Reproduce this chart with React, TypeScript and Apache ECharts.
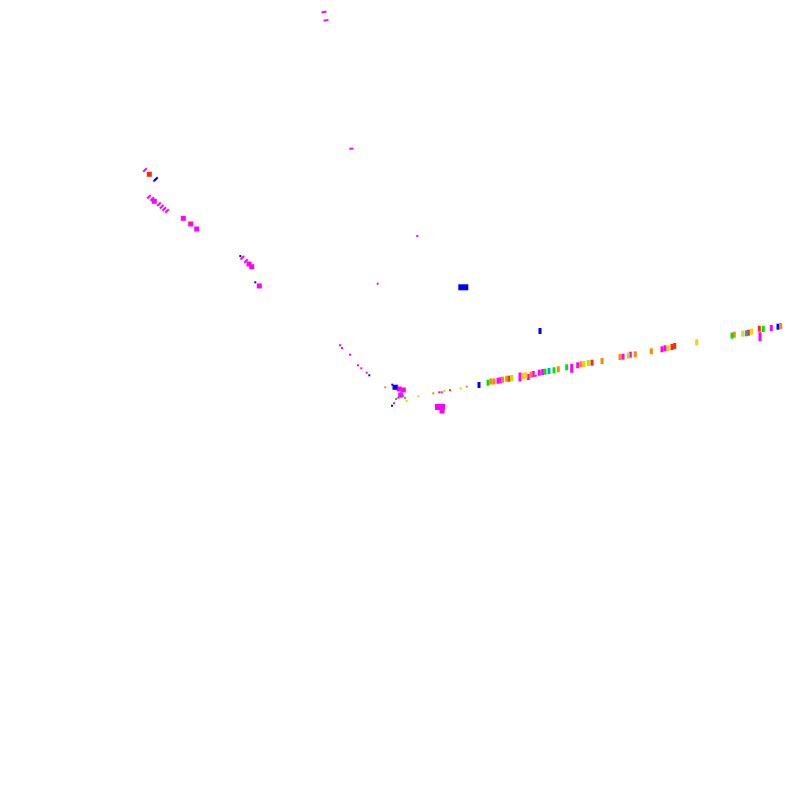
import React, { useEffect, useRef } from "react";
import * as echarts from "echarts";

// Each point: [x, y, kind]  (kind: 1 tiny, 2 bar, 3 tall bar, 4 blob, 5 wide blob, 6 dash)
const magentaPts: number[][] = [
  [324, 12, 5.5], [326, 20.3, 5.5], [351.3, 148.7, 7], [417.3, 236, 1], [377.7, 283.7, 1],
  [145, 170, 6], [155, 180, 6], [149, 196.7, 6], [152.3, 199, 6], [154.3, 201.3, 4],
  [159, 204.3, 6], [161.7, 206.7, 6], [164.3, 209, 6], [167, 211, 6], [183.3, 218.3, 4],
  [190.7, 224, 4], [196.7, 229, 4], [242.3, 257.7, 6], [246, 261, 6], [249, 264, 4],
  [251.7, 266.7, 4], [259.3, 286, 4],
  [340, 345.3, 1], [342, 348, 1], [350, 354.7, 1], [358, 365.3, 1], [361.3, 368.3, 1], [366.7, 372.7, 1],
  [397.3, 385.7, 1], [399.3, 389, 4], [403.3, 390, 4], [400.7, 395, 4], [402.7, 395.7, 1], [398.3, 397.7, 1], [394, 403.3, 1],
  [440, 407, 5], [442, 411, 4], [441.7, 392.3, 1],
  [498, 380.7, 2], [500.7, 380.3, 2], [520, 377, 3], [528.3, 377, 2], [533.3, 374, 2], [535.7, 375.7, 1],
  [539.3, 372.7, 2], [542.7, 372, 2], [571.7, 368.3, 3], [577.7, 365.3, 2], [623, 356.7, 2], [630.3, 354.7, 2],
  [662, 349.3, 2], [665, 348.3, 2], [760, 336.7, 3], [771.3, 328, 2],
];
const bluePts: number[][] = [
  [156, 179, 6], [240.3, 256, 1], [255.3, 282.3, 1], [463.3, 287.3, 5], [540, 331, 2], [369.3, 375.3, 1],
  [392.3, 384.7, 1], [395, 387.3, 4], [392, 405.7, 1], [479, 385, 2], [778, 326.7, 2],
];
const redPts: number[][] = [
  [149.3, 174.3, 4], [190, 223, 1], [439.3, 392.3, 1], [450, 390.3, 1], [509, 378.7, 2], [592, 362.7, 2],
  [672, 347, 2], [674.7, 346, 2], [748.3, 332.7, 2], [759.3, 328.7, 2],
];
const orangePts: number[][] = [
  [385.3, 387.3, 1], [433.3, 393.3, 1], [466.7, 386.7, 1], [491, 381.5, 2], [494, 381.5, 2], [502.5, 379.7, 2],
  [506.7, 378.7, 2], [531, 374.7, 2], [558.3, 369.3, 2], [581, 364.3, 2], [602, 361, 2], [620, 357, 2],
  [635.3, 354.3, 2], [651.3, 351.3, 2], [734.3, 334.7, 2], [780.7, 326, 2],
];
const yellowPts: number[][] = [
  [406.7, 401, 1], [418.3, 396.3, 1], [460.7, 388.3, 1], [523.3, 376, 2], [526, 375.3, 2], [584, 364, 2],
  [668, 348.3, 2], [696.7, 342.3, 2], [742.7, 333.7, 2], [751.7, 331.7, 2],
];
const greenPts: number[][] = [
  [405, 397.7, 1], [396, 399, 1], [488, 382.7, 2], [545, 371.7, 2], [554, 370.3, 2], [566.7, 367.3, 2],
  [732, 335.7, 2], [763.3, 329, 2],
];
const limePts: number[][] = [
  [444.3, 391, 1], [511.7, 378, 2], [588.3, 363, 2], [628.3, 355.7, 2],
];
const cyanPts: number[][] = [
  [401, 393, 1], [549, 371, 2], [746.3, 333.3, 2],
];

const groups = [
  { name: "magenta", color: "#ff00ff", data: magentaPts },
  { name: "blue", color: "#0000ff", data: bluePts },
  { name: "red", color: "#ff2a00", data: redPts },
  { name: "orange", color: "#ff8800", data: orangePts },
  { name: "yellow", color: "#ffcc00", data: yellowPts },
  { name: "green", color: "#00e600", data: greenPts },
  { name: "lime", color: "#aaee00", data: limePts },
  { name: "cyan", color: "#00aadd", data: cyanPts },
];

const sizeOf = (k: number): number[] => {
  switch (k) {
    case 1: return [2, 2];
    case 2: return [3, 6];
    case 3: return [3, 9];
    case 4: return [5, 5];
    case 5: return [10, 6];
    case 5.5: return [5, 2];
    case 6: return [5, 2];
    case 7: return [4, 2];
    default: return [2, 2];
  }
};

export default function App() {
  const ref = useRef<HTMLDivElement>(null);
  useEffect(() => {
    if (!ref.current) return;
    const chart = echarts.init(ref.current, undefined, { renderer: "svg" });
    chart.setOption({
      animation: false,
      backgroundColor: "#ffffff",
      grid: { left: 0, right: 0, top: 0, bottom: 0 },
      xAxis: { type: "value", min: 0, max: 800, show: false },
      yAxis: { type: "value", min: 0, max: 800, inverse: true, show: false },
      series: groups.map((g) => ({
        name: g.name,
        type: "scatter",
        data: g.data,
        symbol: "rect",
        symbolSize: (v: number[]) => sizeOf(v[2]),
        symbolRotate: (v: number[]) => (v[2] === 6 ? 45 : v[2] === 5.5 ? 10 : 0),
        itemStyle: { color: g.color, opacity: 1 },
        emphasis: { disabled: true },
        silent: true,
      })),
    });
    return () => chart.dispose();
  }, []);
  return (
    <div
      ref={ref}
      style={{ position: "absolute", left: 0, top: 0, width: 800, height: 800 }}
    />
  );
}
